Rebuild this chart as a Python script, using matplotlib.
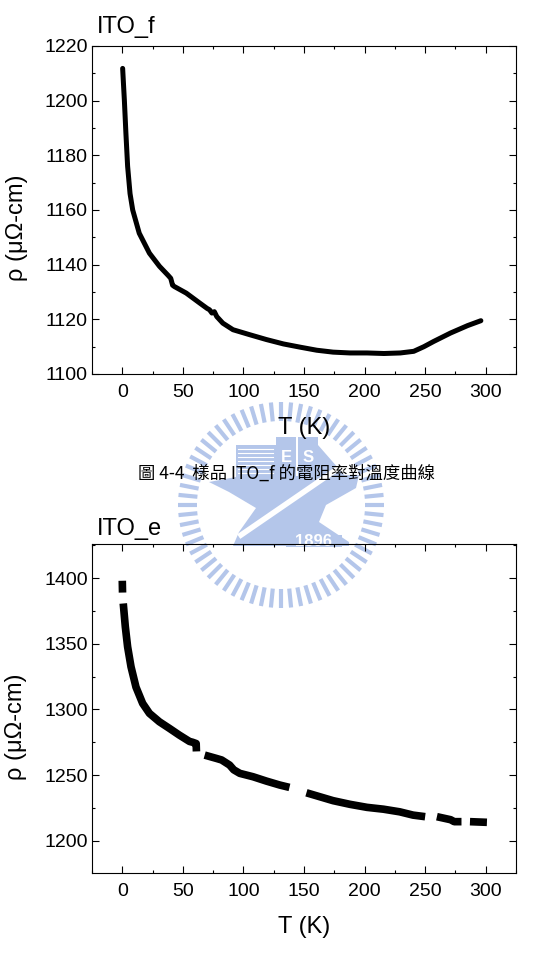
import matplotlib
matplotlib.use("Agg")
import matplotlib.pyplot as plt
import matplotlib.patches as patches
import numpy as np
from matplotlib.ticker import MultipleLocator

plt.rcParams['font.family'] = ['Liberation Sans', 'DejaVu Sans']

# ITO_f : rho(T)
ito_f_T = [0.3, 1.0, 1.7, 3.0, 4.4, 6.4, 8.6, 14, 22.4, 30.7, 38, 40, 41.5, 43,
           52.8, 63.8, 70, 72, 74, 76, 78, 83, 91.4, 105, 119, 133, 147,
           160.5, 174, 188, 202, 216, 229.5, 240.6, 249, 257, 271, 285, 296]
ito_f_rho = [1211.8, 1206, 1200.3, 1188, 1176, 1166, 1160, 1151.5, 1144.2, 1139.4,
             1136, 1135, 1132.5, 1132, 1129.6, 1126, 1124, 1123.5, 1122.3, 1122.8,
             1121, 1118.6, 1116.2, 1114.4, 1112.6, 1111, 1109.8, 1108.7, 1108,
             1107.7, 1107.7, 1107.5, 1107.7, 1108.3, 1110, 1111.9, 1115, 1117.7, 1119.5]

# ITO_e : rho(T), nan marks the gaps in the measured data
ito_e_T = [0, 0.2, np.nan,
           0.8, 2.5, 4.4, 7.2, 11.3, 16.8, 22.4, 30.6, 39, 47, 55.5, 58, 61, 61.2, np.nan,
           68, 77.6, 82, 88.6, 92, 97, 108, 119, 130, 138, np.nan,
           152, 163, 174, 188, 202, 215.6, 229, 240, 250, np.nan,
           259.7, 271, 274, 280, np.nan,
           287, 301]
ito_e_rho = [1398, 1389, np.nan,
             1380.7, 1363, 1347.7, 1332.5, 1317, 1304.6, 1297, 1290.6, 1285.5,
             1280.5, 1275.6, 1275, 1274, 1268, np.nan,
             1265.2, 1262.7, 1261.5, 1257.6, 1254, 1251.3, 1248.7, 1245.4, 1242.4, 1240.6, np.nan,
             1236.5, 1233.5, 1230.5, 1227.7, 1225.4, 1224, 1222, 1219.5, 1218.3, np.nan,
             1218.3, 1216, 1214.5, 1214.5, np.nan,
             1214.5, 1214]

W, H = 544, 968
fig = plt.figure(figsize=(W / 100, H / 100), dpi=100)

# faint watermark behind the plots, drawn in pixel coordinates
bg = fig.add_axes([0, 0, 1, 1], zorder=0)
bg.set_xlim(0, W)
bg.set_ylim(H, 0)
bg.axis('off')
wm = '#b4c6ea'
cx, cy = 281, 505
for a in np.linspace(0, 2 * np.pi, 64, endpoint=False):
    r0, r1 = 84, 103
    bg.plot([cx + r0 * np.cos(a), cx + r1 * np.cos(a)],
            [cy + r0 * np.sin(a), cy + r1 * np.sin(a)],
            color=wm, lw=3.0, solid_capstyle='butt')
anvil = [(-72, -23), (-45, -28), (78, -30), (75, -17), (45, 0), (38, 17),
         (68, 37), (68, 41), (-48, 41), (-42, 27), (-25, 3), (-52, -13)]
bg.add_patch(patches.Polygon([(cx + x, cy + y) for x, y in anvil], color=wm, lw=0))
for (x0, y0, x1, y1) in [(-45, -60, -5, -28), (-5, -68, 15, -28), (17, -68, 37, -28)]:
    bg.add_patch(patches.Rectangle((cx + x0, cy + y0), x1 - x0, y1 - y0, color=wm, lw=0))
for yy in np.arange(-56, -30, 4):
    bg.plot([cx - 43, cx - 8], [cy + yy, cy + yy], color='white', lw=0.8)
bg.text(cx + 5, cy - 47, 'E', color='white', fontsize=12, ha='center', va='center', weight='bold')
bg.text(cx + 27, cy - 47, 'S', color='white', fontsize=12, ha='center', va='center', weight='bold')
bg.add_patch(patches.Polygon([(cx + 37, cy - 60), (cx + 65, cy - 28), (cx + 37, cy - 28)], color=wm, lw=0))
bg.plot([cx - 40, cx + 62], [cy + 30, cy - 40], color='white', lw=4)
bg.add_patch(patches.Rectangle((cx + 5, cy + 30), 56, 12, color=wm, lw=0))
bg.text(cx + 33, cy + 36.5, '1896', color='white', fontsize=12, ha='center', va='center', weight='bold')


def style_axes(ax):
    ax.set_facecolor('none')
    ax.xaxis.set_major_locator(MultipleLocator(50))
    ax.xaxis.set_minor_locator(MultipleLocator(25))
    ax.tick_params(which='both', direction='in', top=True, right=True,
                   labelsize=14, width=0.8)
    ax.tick_params(which='major', length=5)
    ax.tick_params(which='minor', length=2.5)
    ax.tick_params(axis='y', pad=3)
    ax.tick_params(axis='x', pad=7)
    for s in ax.spines.values():
        s.set_linewidth(0.8)
    ax.set_xlim(-25, 325)
    ax.set_xlabel('T (K)', fontsize=17, labelpad=12)


ax1 = fig.add_axes([92 / W, 1 - 374 / H, 424 / W, 328 / H], zorder=1)
ax1.plot(ito_f_T, ito_f_rho, color='black', lw=3.6, solid_capstyle='round')
style_axes(ax1)
ax1.set_ylim(1100, 1220)
ax1.yaxis.set_major_locator(MultipleLocator(20))
ax1.yaxis.set_minor_locator(MultipleLocator(10))

ax2 = fig.add_axes([92 / W, 1 - 873 / H, 424 / W, 329 / H], zorder=1)
ax2.plot(ito_e_T, ito_e_rho, color='black', lw=5.5, solid_capstyle='butt')
style_axes(ax2)
ax2.set_ylim(1175.4, 1426)
ax2.yaxis.set_major_locator(MultipleLocator(50))
ax2.yaxis.set_minor_locator(MultipleLocator(25))

fig.text(97 / W, 1 - 33 / H, 'ITO_f', fontsize=17, ha='left', va='baseline')
fig.text(97 / W, 1 - 535 / H, 'ITO_e', fontsize=17, ha='left', va='baseline')
fig.text(17 / W, 1 - 228 / H, 'ρ (μΩ-cm)', fontsize=17, rotation=90, ha='center', va='center')
fig.text(16 / W, 1 - 727 / H, 'ρ (μΩ-cm)', fontsize=17, rotation=90, ha='center', va='center')

fig.text(287 / W, 1 - 474 / H, '圖 4-4  樣品 ITO_f 的電阻率對溫度曲線', fontsize=12.5,
         ha='center', va='center', family=['Noto Sans CJK TC', 'DejaVu Sans'], zorder=5)

fig.savefig('out.png', dpi=100)
